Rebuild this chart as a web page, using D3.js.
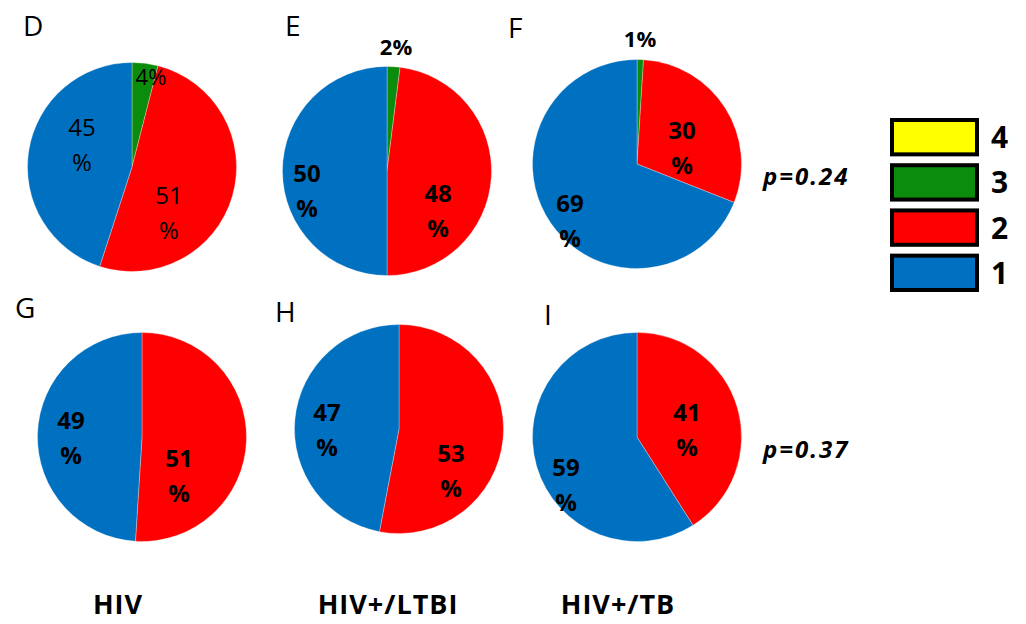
<!DOCTYPE html>
<html>
<head>
<meta charset="utf-8">
<script src="https://cdn.jsdelivr.net/npm/d3@7"></script>
<style>
  body { margin: 0; background: #fff; }
  text { font-family: "Open Sans", "DejaVu Sans", sans-serif; fill: #000; }
</style>
</head>
<body>
<div id="chart"></div>
<script>
// panel letters and group names
var panels = ['D', 'E', 'F', 'G', 'H', 'I'];
var groups = ['HIV', 'HIV+/LTBI', 'HIV+/TB'];

// legend categories; slices run clockwise from 12 o'clock as 3, 2, 1
var categories = ['4', '3', '2', '1'];
var sliceOrder = ['3', '2', '1'];

// percentages per panel, in sliceOrder
var valuesD = [4, 51, 45];
var valuesE = [2, 48, 50];
var valuesF = [1, 30, 69];
var valuesG = [0, 51, 49];
var valuesH = [0, 53, 47];
var valuesI = [0, 41, 59];

var pValues = ['p=0.24', 'p=0.37'];

//Width and height
var w = 1026;
var h = 624;

var colors = { '4': '#ffff00', '3': '#0c8c0c', '2': '#ff0000', '1': '#0070c0' };

// pie layout: centres, letter position, label nudges (from centre, per slice)
var r = 104.5;
var layout = [
  { cx: 132, cy: 167, lx: 23, ly: 36, values: valuesD, bold: false,
    nudge: [[19, -90], [37, 28], [-50, -40]] },
  { cx: 387, cy: 171, lx: 285, ly: 36, values: valuesE, bold: true,
    nudge: [[9, -124], [51, 22], [-80, 2]] },
  { cx: 637, cy: 164, lx: 508, ly: 38, values: valuesF, bold: true,
    nudge: [[3, -125], [45, -34], [-67, 39]] },
  { cx: 142, cy: 437, lx: 15, ly: 318, values: valuesG, bold: true,
    nudge: [null, [37, 21], [-71, -17]] },
  { cx: 399, cy: 429, lx: 275, ly: 322, values: valuesH, bold: true,
    nudge: [null, [52, 24], [-72, -17]] },
  { cx: 637, cy: 437, lx: 544, ly: 325, values: valuesI, bold: true,
    nudge: [null, [50, -25], [-71, 30]] }
];

var svg = d3.select('#chart')
            .append('svg')
            .attr('width', w)
            .attr('height', h);

var pie = d3.pie().sort(null).value(function (d) { return d.value; });
var arc = d3.arc().innerRadius(0).outerRadius(r);

layout.forEach(function (p, i) {
  var data = sliceOrder.map(function (c, j) { return { cat: c, value: p.values[j], k: j }; });
  var arcs = pie(data);

  svg.append('text')
    .attr('x', p.lx)
    .attr('y', p.ly)
    .style('font-size', '28px')
    .text(panels[i]);

  var g = svg.append('g')
    .attr('transform', 'translate(' + p.cx + ',' + p.cy + ')');

  g.selectAll('path')
    .data(arcs.filter(function (d) { return d.data.value > 0; }))
    .enter()
    .append('path')
    .attr('d', arc)
    .attr('fill', function (d) { return colors[d.data.cat]; })
    .attr('stroke', '#fff')
    .attr('stroke-opacity', 0.5)
    .attr('stroke-width', 0.6);

  // data labels
  arcs.forEach(function (d) {
    var v = d.data.value;
    if (v <= 0) return;
    var n = p.nudge[d.data.k];
    var t = g.append('text')
      .attr('text-anchor', 'middle')
      .style('font-size', v < 10 ? '22px' : '24px')
      .style('font-weight', p.bold ? 'bold' : 'normal');
    if (v < 10) {
      t.attr('x', n[0]).attr('y', n[1] + 8).text(v + '%');
    } else {
      t.append('tspan').attr('x', n[0]).attr('y', n[1] + 9).text(v);
      t.append('tspan').attr('x', n[0]).attr('y', n[1] + 44).text('%');
    }
  });
});

// p values
[layout[2], layout[5]].forEach(function (p, i) {
  svg.append('text')
    .attr('x', 763)
    .attr('y', p.cy + 21)
    .style('font-size', '24px')
    .style('font-weight', 'bold')
    .style('font-style', 'italic')
    .style('letter-spacing', '2px')
    .text(pValues[i]);
});

// group labels under bottom row
[layout[3], layout[4], layout[5]].forEach(function (p, i) {
  svg.append('text')
    .attr('x', [118, 388, 618][i])
    .attr('y', 614)
    .attr('text-anchor', 'middle')
    .style('font-size', '27px')
    .style('font-weight', 'bold')
    .style('letter-spacing', '1px')
    .text(groups[i]);
});

// legend
var ly = d3.scaleBand().domain(categories).range([120, 290]).paddingInner(0.24);

var leg = svg.append('g');
leg.selectAll('rect')
  .data(categories)
  .enter()
  .append('rect')
  .attr('x', 892)
  .attr('y', function (d) { return ly(d); })
  .attr('width', 85)
  .attr('height', ly.bandwidth())
  .attr('fill', function (d) { return colors[d]; })
  .attr('stroke', '#000')
  .attr('stroke-width', 4);

leg.selectAll('text')
  .data(categories)
  .enter()
  .append('text')
  .attr('x', 991)
  .attr('y', function (d) { return ly(d) + ly.bandwidth() / 2 + 11; })
  .style('font-size', '30px')
  .style('font-weight', 'bold')
  .text(function (d) { return d; });
</script>
</body>
</html>
